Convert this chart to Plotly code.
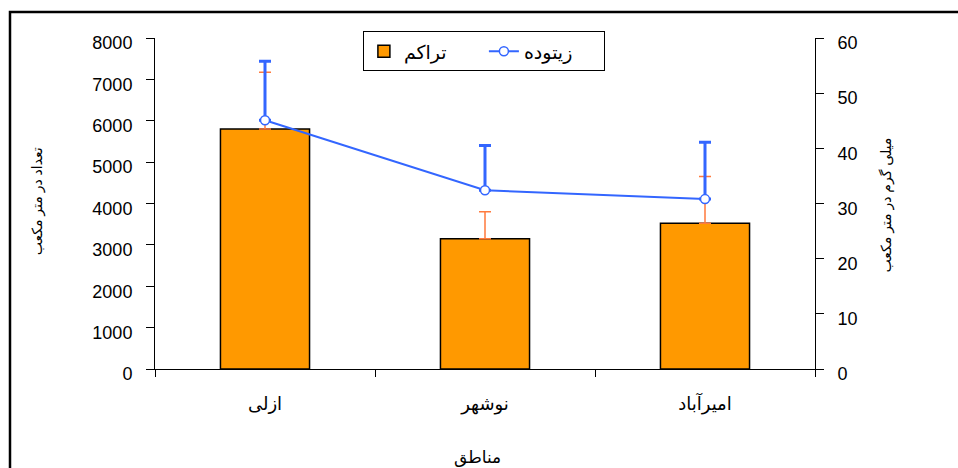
import plotly.graph_objects as go

# Sampling regions
regions = ["ازلی", "نوشهر", "امیرآباد"]

# Density (count per cubic metre) with upper error
density = [5800, 3150, 3520]
density_err = [1370, 650, 1130]

# Biomass (mg per cubic metre) with upper error
biomass = [45.1, 32.4, 30.8]
biomass_err = [10.7, 8.1, 10.3]

FONT = "Liberation Sans, Arial, DejaVu Sans, sans-serif"
ORANGE = "#FF9900"
ERR_ORANGE = "#FF7A3D"
BLUE = "#3366FF"

fig = go.Figure()

fig.add_trace(go.Bar(
    x=regions, y=density, name="تراکم",
    width=0.405,
    marker=dict(color=ORANGE, line=dict(color="black", width=1.5)),
    error_y=dict(type="data", array=density_err, symmetric=False,
                 arrayminus=[0, 0, 0], color=ERR_ORANGE, thickness=1.5, width=6),
    yaxis="y",
))

fig.add_trace(go.Scatter(
    x=regions, y=biomass, name="زیتوده",
    mode="lines+markers",
    line=dict(color=BLUE, width=2),
    marker=dict(symbol="circle", size=9, color="white",
                line=dict(color=BLUE, width=1.5)),
    error_y=dict(type="data", array=biomass_err, symmetric=False,
                 arrayminus=[0, 0, 0], color=BLUE, thickness=3, width=6),
    yaxis="y2",
))

fig.update_layout(
    width=958, height=468,
    margin=dict(l=155, r=143, t=38, b=99),
    paper_bgcolor="white", plot_bgcolor="white",
    font=dict(family=FONT, color="black", size=16),
    showlegend=True,
    legend=dict(
        orientation="h", x=0.315, y=1.02, xanchor="left", yanchor="top",
        bordercolor="black", borderwidth=1, bgcolor="white",
        font=dict(size=19, family=FONT),
        entrywidth=75, entrywidthmode="pixels",
        traceorder="normal",
    ),
    xaxis=dict(
        type="category", tickson="boundaries",
        showline=True, linecolor="black", linewidth=1,
        ticks="outside", ticklen=7, tickcolor="black",
        showgrid=False, zeroline=False,
        tickfont=dict(size=18, family=FONT),
        ticklabelstandoff=18,
    ),
    yaxis=dict(
        range=[0, 8000], dtick=1000,
        showline=True, linecolor="black", linewidth=1,
        ticks="outside", ticklen=8, tickcolor="black",
        showgrid=False, zeroline=False,
        tickfont=dict(size=18, family=FONT),
        ticklabelshift=5, ticklabelstandoff=10,
    ),
    yaxis2=dict(
        range=[0, 60], dtick=10, overlaying="y", side="right",
        showline=True, linecolor="black", linewidth=1,
        ticks="outside", ticklen=8, tickcolor="black",
        showgrid=False, zeroline=False,
        tickfont=dict(size=18, family=FONT),
        ticklabelshift=5, ticklabelstandoff=10,
    ),
    annotations=[
        dict(text="تعداد در متر مکعب", xref="paper", yref="paper",
             x=-0.194, y=0.508, textangle=-90, showarrow=False,
             font=dict(size=14, family=FONT)),
        dict(text="میلی گرم در متر مکعب", xref="paper", yref="paper",
             x=1.124, y=0.495, textangle=-90, showarrow=False,
             font=dict(size=14, family=FONT)),
        dict(text="مناطق", xref="paper", yref="paper",
             x=0.488, y=-0.266, yanchor="middle", showarrow=False,
             font=dict(size=17, family=FONT)),
    ],
    shapes=[
        dict(type="rect", xref="paper", yref="paper",
             x0=-0.2197, x1=1.4, y0=-0.6, y1=1.0785,
             line=dict(color="black", width=2.5), fillcolor="rgba(0,0,0,0)",
             layer="below"),
    ],
)

fig.write_html("out.html")
